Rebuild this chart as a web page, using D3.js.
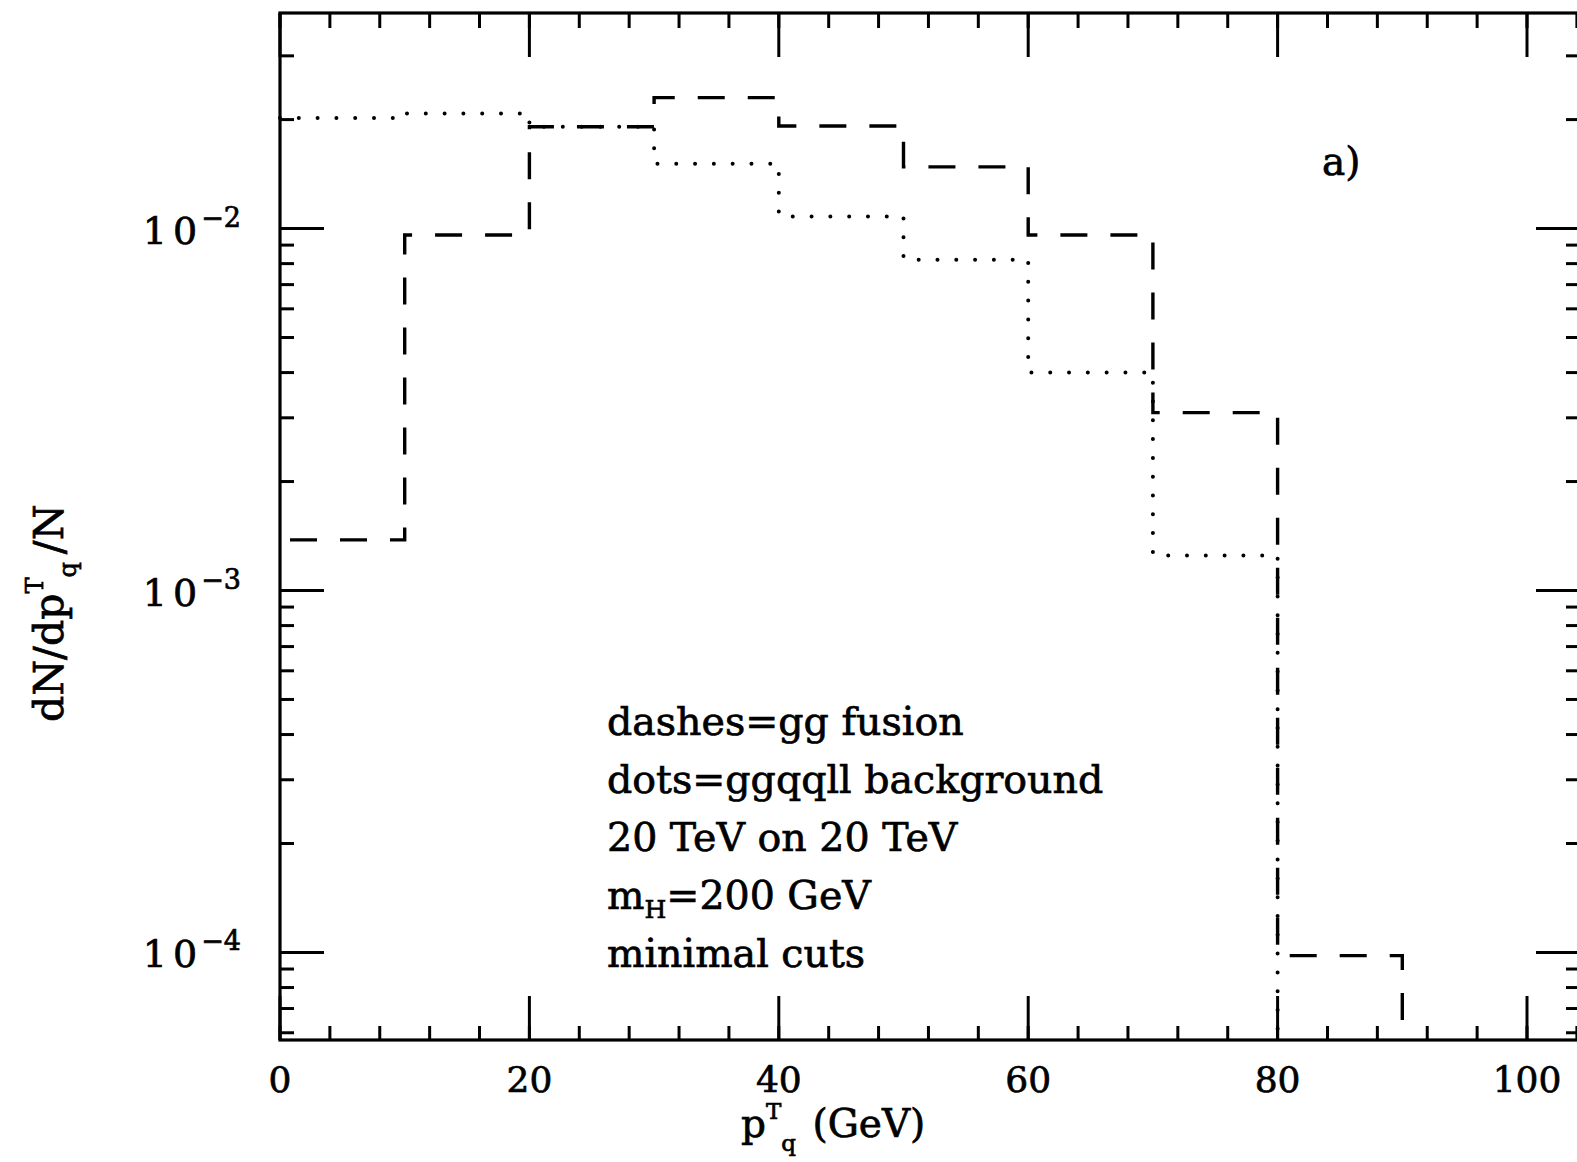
<!DOCTYPE html>
<html>
<head>
<meta charset="utf-8">
<script src="https://cdn.jsdelivr.net/npm/d3@7"></script>
<style>
  body { margin: 0; background: #fff; }
  svg text { font-family: "DejaVu Serif", serif; fill: #000; stroke: #000; stroke-width: 0.7px; }
</style>
</head>
<body>
<svg id="chart" width="1577" height="1162"></svg>
<script>
// bins of pT_q (GeV), 10 GeV wide
var binEdges = [0, 10, 20, 30, 40, 50, 60, 70, 80, 90, 100]
// dashes = gg fusion (0 = empty bin)
var ggFusion = [1.38e-3, 9.6e-3, 1.91e-2, 2.30e-2, 1.92e-2, 1.48e-2, 9.6e-3, 3.1e-3, 9.8e-5, 0]
// dots = ggqqll background
var background = [2.02e-2, 2.08e-2, 1.91e-2, 1.51e-2, 1.08e-2, 8.2e-3, 4.0e-3, 1.25e-3, 0, 0]

var xMajorTicks = [0, 20, 40, 60, 80, 100]
var yMajorTicks = [1e-4, 1e-3, 1e-2]
var yExponents = ["\u22124", "\u22123", "\u22122"]
var notes = ["dashes=gg fusion", "dots=ggqqll background", "20 TeV on 20 TeV", "m|H|=200 GeV", "minimal cuts"]
var panelLabel = "a)"

var svg = d3.select("#chart")

var x = d3.scaleLinear().domain([0, 104.25]).range([280, 1580])
var y = d3.scaleLog().domain([5.73e-5, 0.0394]).range([1040, 13])

// note: "top" is taken by window.top, so use plot* names
var plotLeft = x.range()[0], plotRight = x.range()[1]
var plotBottom = y.range()[0], plotTop = y.range()[1]

// minor ticks
var xMinor = d3.range(0, 104.25, 4)
var yMinor = []
;[1e-5, 1e-4, 1e-3, 1e-2].forEach(function (dec) {
  for (var k = 2; k <= 9; k++) {
    var v = k * dec
    if (v > y.domain()[0] && v < y.domain()[1]) yMinor.push(v)
  }
})

var ticks = svg.append("g").attr("stroke", "#000").attr("stroke-width", 3)

// bottom and top x ticks
xMinor.forEach(function (d) {
  ticks.append("line").attr("x1", x(d)).attr("x2", x(d)).attr("y1", plotBottom).attr("y2", plotBottom - 14)
  ticks.append("line").attr("x1", x(d)).attr("x2", x(d)).attr("y1", plotTop).attr("y2", plotTop + 15)
})
xMajorTicks.forEach(function (d) {
  ticks.append("line").attr("x1", x(d)).attr("x2", x(d)).attr("y1", plotBottom).attr("y2", plotBottom - 44)
  ticks.append("line").attr("x1", x(d)).attr("x2", x(d)).attr("y1", plotTop).attr("y2", plotTop + 44)
})
// left and right y ticks
yMinor.forEach(function (d) {
  ticks.append("line").attr("x1", plotLeft).attr("x2", plotLeft + 14).attr("y1", y(d)).attr("y2", y(d))
  ticks.append("line").attr("x1", plotRight).attr("x2", plotRight - 14).attr("y1", y(d)).attr("y2", y(d))
})
yMajorTicks.forEach(function (d) {
  ticks.append("line").attr("x1", plotLeft).attr("x2", plotLeft + 44).attr("y1", y(d)).attr("y2", y(d))
  ticks.append("line").attr("x1", plotRight).attr("x2", plotRight - 44).attr("y1", y(d)).attr("y2", y(d))
})

// frame
svg.append("rect")
  .attr("x", plotLeft).attr("y", plotTop)
  .attr("width", plotRight - plotLeft).attr("height", plotBottom - plotTop)
  .attr("fill", "none").attr("stroke", "#000").attr("stroke-width", 3.2)

// x tick labels
svg.append("g").selectAll("text").data(xMajorTicks).enter().append("text")
  .attr("x", function (d) { return x(d) })
  .attr("y", 1092)
  .attr("text-anchor", "middle")
  .attr("font-size", 36)
  .text(function (d) { return d })

// y tick labels 10^n
var yl = svg.append("g").selectAll("text").data(yMajorTicks).enter().append("text")
  .attr("x", 241)
  .attr("y", function (d) { return y(d) + 15 })
  .attr("text-anchor", "end")
  .attr("font-size", 38)
yl.append("tspan").text("1")
yl.append("tspan").attr("dx", 6).text("0")
yl.append("tspan").attr("dx", 4).attr("dy", -17).attr("font-size", 27)
  .text(function (d, i) { return yExponents[i] })

// axis titles
var xt = svg.append("text").attr("x", 741).attr("y", 1137).attr("font-size", 39)
xt.append("tspan").text("p")
xt.append("tspan").attr("dy", -18).attr("font-size", 23).text("T")
xt.append("tspan").attr("dy", 32).attr("font-size", 23).text("q")
xt.append("tspan").attr("dy", -14).attr("dx", 4).text(" (GeV)")

var ytt = svg.append("text")
  .attr("transform", "translate(63,722) rotate(-90)")
  .attr("font-size", 41)
ytt.append("tspan").text("dN/dp")
ytt.append("tspan").attr("dy", -20).attr("font-size", 24).text("T")
ytt.append("tspan").attr("dy", 33).attr("font-size", 24).text("q")
ytt.append("tspan").attr("dy", -13).attr("dx", 8).text("/N")

// histogram step paths
function stepPoints(vals) {
  var pts = []
  for (var i = 0; i < vals.length; i++) {
    if (vals[i] > 0) {
      pts.push([binEdges[i], vals[i]])
      pts.push([binEdges[i + 1], vals[i]])
    } else {
      pts.push([binEdges[i], y.domain()[0]])
      break
    }
  }
  return pts
}

var line = d3.line()
  .x(function (d) { return x(d[0]) })
  .y(function (d) { return y(d[1]) })

svg.append("path")
  .attr("d", line(stepPoints(ggFusion)))
  .attr("fill", "none").attr("stroke", "#000")
  .attr("stroke-width", 3.4)
  .attr("stroke-dasharray", "27 23")
  .attr("stroke-dashoffset", -10)

svg.append("path")
  .attr("d", line(stepPoints(background)))
  .attr("fill", "none").attr("stroke", "#000")
  .attr("stroke-width", 4)
  .attr("stroke-linecap", "round")
  .attr("stroke-dasharray", "0 18.8")

// notes
var nt = svg.append("g").selectAll("text").data(notes).enter().append("text")
  .attr("x", 607)
  .attr("y", function (d, i) { return 735 + i * 58 })
  .attr("font-size", 39.5)
nt.each(function (d) {
  var t = d3.select(this)
  var parts = d.split("|")
  t.append("tspan").text(parts[0])
  if (parts.length > 1) {
    t.append("tspan").attr("dy", 9).attr("font-size", 25).text(parts[1])
    t.append("tspan").attr("dy", -9).text(parts[2])
  }
})

svg.append("text").attr("x", 1322).attr("y", 175).attr("font-size", 39).text(panelLabel)
</script>
</body>
</html>
